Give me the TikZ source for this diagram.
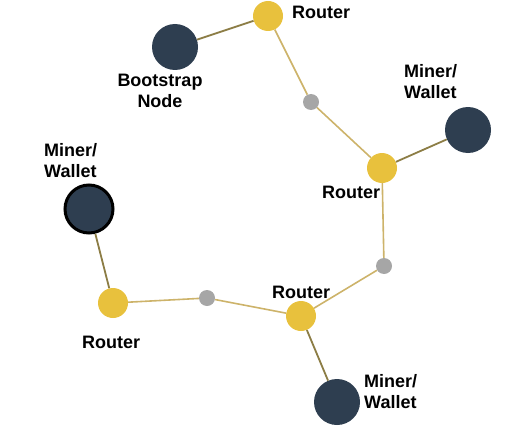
\documentclass[tikz,border=0pt]{standalone}
\usepackage{fontspec}
\setmainfont{Liberation Sans}
\usepackage{xcolor}
\usetikzlibrary{positioning}
\definecolor{router}{HTML}{E8C13D}
\definecolor{peer}{HTML}{2E3E50}
\definecolor{hop}{HTML}{A6A6A6}
\definecolor{link}{HTML}{8C7D45}
\definecolor{relay}{HTML}{CDB36A}

\begin{document}
\begin{tikzpicture}[x=1pt,y=-1pt,font=\fontsize{18}{21}\selectfont\bfseries,
rt/.style={circle,fill=router,inner sep=0pt,minimum size=30pt},
pr/.style={circle,fill=peer,inner sep=0pt,minimum size=46pt},
hp/.style={circle,fill=hop,inner sep=0pt,minimum size=16pt},
lbl/.style={align=left,inner sep=0pt},
lnk/.style={draw=link,line width=1.8pt},
rly/.style={draw=relay,line width=1.6pt}]
\useasboundingbox (0,0) rectangle (505,433);
\node[pr] (boot) at (175,47) {};
\node[rt] (rtop) at (268,16) {};
\node[hp] (h1) at (311,102) {};
\node[rt] (rright) at (382,168) {};
\node[pr] (mright) at (468,130) {};
\node[hp] (h2) at (384,266) {};
\node[rt] (rbot) at (301,316) {};
\node[pr] (mbot) at (337,402) {};
\node[hp] (h3) at (207,298) {};
\node[rt] (rleft) at (113,303) {};
\node[pr,draw=black,line width=3pt,minimum size=48pt] (mleft) at (89,209) {};
% labels
\node[lbl,anchor=west] (lrtop) at (292,12) {Router};
\node[lbl,align=center] (lboot) at (160,91) {Bootstrap\\Node};
\node[lbl,anchor=west] (lmright) at (404,82) {Miner/\\Wallet};
\node[lbl,anchor=west] (lrright) at (322,192) {Router};
\node[lbl,anchor=west] (lmleft) at (44,161) {Miner/\\Wallet};
\node[lbl,anchor=west] (lrleft) at (82,342) {Router};
\node[lbl,anchor=west] (lrbot) at (272,292) {Router};
\node[lbl,anchor=west] (lmbot) at (364,392) {Miner/\\Wallet};
% links
\draw[lnk] (boot)--(rtop);\draw[rly] (rtop)--(h1);\draw[rly] (h1)--(rright);
\draw[lnk] (rright)--(mright);\draw[rly] (rright)--(h2);\draw[rly] (h2)--(rbot);
\draw[lnk] (rbot)--(mbot);\draw[rly] (rbot)--(h3);\draw[rly] (h3)--(rleft);
\draw[lnk] (rleft)--(mleft);
\end{tikzpicture}
\end{document}
